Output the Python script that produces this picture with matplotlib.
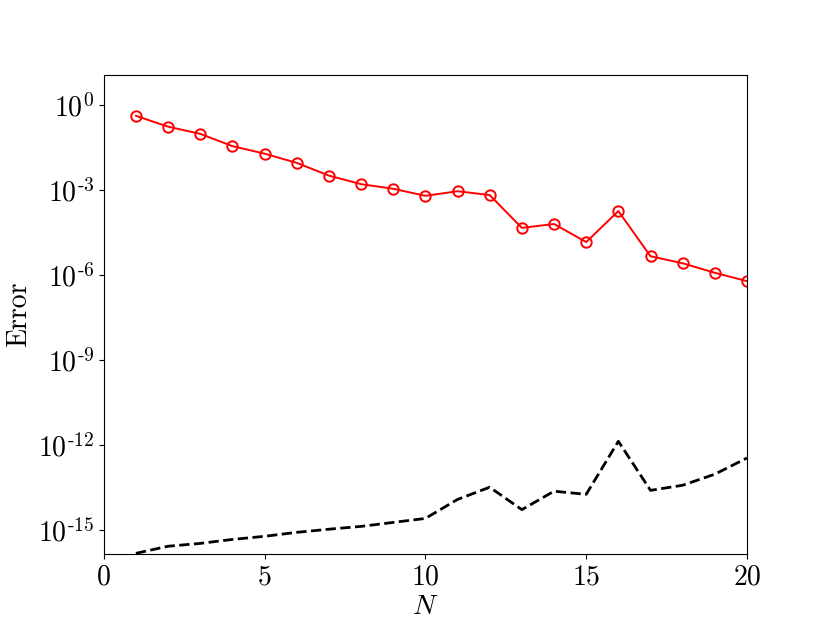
import numpy as np
import matplotlib
matplotlib.use("Agg")
import matplotlib.pyplot as plt
from matplotlib.ticker import FixedLocator, FuncFormatter, NullLocator

plt.rcParams['font.family'] = 'serif'
plt.rcParams['font.serif'] = ['cmr10']
plt.rcParams['mathtext.fontset'] = 'cm'
plt.rcParams['axes.unicode_minus'] = False
plt.rcParams['font.size'] = 20

N = np.arange(1, 21)
err_approx = [0.41, 0.17, 0.095, 0.035, 0.019, 0.009, 0.0032, 0.0016, 0.0011, 6.2e-4,
              9.0e-4, 6.6e-4, 4.6e-5, 6.3e-5, 1.45e-5, 1.8e-4, 4.6e-6, 2.6e-6, 1.2e-6, 6.1e-7]
log_err_exact = [-15.81, -15.56, -15.46, -15.32, -15.21, -15.07, -14.96, -14.86, -14.72, -14.58,
                 -13.91, -13.48, -14.27, -13.62, -13.73, -11.86, -13.59, -13.41, -13.02, -12.45]
err_exact = 10.0 ** np.array(log_err_exact)

fig, ax = plt.subplots(figsize=(8.3, 6.23), dpi=100)
ax.semilogy(N, err_approx, 'r-o', markerfacecolor='none', markersize=7.5,
            markeredgewidth=1.4, linewidth=1.4)
ax.semilogy(N, err_exact, 'k--', linewidth=2)

ax.set_xlim(0, 20)
ax.set_ylim(10 ** -15.85, 10 ** 1.06)
ax.set_xticks([0, 5, 10, 15, 20])
ax.yaxis.set_major_locator(FixedLocator([1e0, 1e-3, 1e-6, 1e-9, 1e-12, 1e-15]))
ax.yaxis.set_minor_locator(NullLocator())
ax.yaxis.set_major_formatter(FuncFormatter(
    lambda v, p: r'$10^{\text{%d}}$' % int(round(np.log10(v)))))
ax.set_xlabel(r'$N$', labelpad=2)
ax.set_ylabel('Error')

plt.savefig("out.png")
